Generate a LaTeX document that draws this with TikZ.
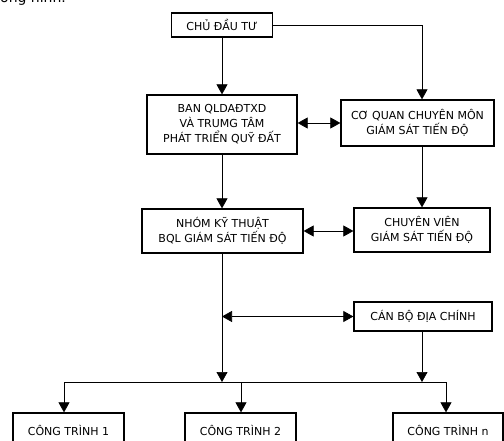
\documentclass[tikz,border=0pt]{standalone}
\usepackage{fontspec}
\setmainfont{DejaVu Sans}
\usetikzlibrary{arrows.meta,calc}
\begin{document}
\begin{tikzpicture}[x=1pt,y=-1pt,
  box/.style={draw,line width=1.3pt,align=center,inner sep=0pt,
    font=\fontsize{11}{15}\selectfont},
  conn/.style={line width=0.7pt},
  arr/.style={conn,-{Triangle[width=11pt,length=10pt]}},
  darr/.style={conn,{Triangle[width=11pt,length=10pt]}-{Triangle[width=11pt,length=10pt]}}]
\useasboundingbox (0,0) rectangle (504,441);
\clip (0,0) rectangle (504,441);
\fill[white] (0,0) rectangle (504,441);
\node[anchor=base west,inner sep=0pt,font=\fontsize{14}{16}\selectfont] (cap) at (0,3) {ong hình.};
% boxes
\node[box,minimum width=101pt,minimum height=24pt] (cdt) at (222,25) {CHỦ ĐẦU TƯ};
\node[box,minimum width=150pt,minimum height=59pt] (ban) at (222,124.5) {BAN QLDAĐTXD\\VÀ TRUMG TÂM\\PHÁT TRIỂN QUỸ ĐẤT};
\node[box,minimum width=153pt,minimum height=46pt] (cq) at (417.5,123) {CƠ QUAN CHUYÊN MÔN\\GIÁM SÁT TIẾN ĐỘ};
\node[box,minimum width=161pt,minimum height=44pt] (nhom) at (222.5,231) {NHÓM KỸ THUẬT\\BQL GIÁM SÁT TIẾN ĐỘ};
\node[box,minimum width=136pt,minimum height=44pt] (cv) at (422,230) {CHUYÊN VIÊN\\GIÁM SÁT TIẾN ĐỘ};
\node[box,minimum width=138pt,minimum height=29pt] (cb) at (423,316.5) {CÁN BỘ ĐỊA CHÍNH};
\node[box,minimum width=111pt,minimum height=34pt] (ct1) at (68.5,430) {CÔNG TRÌNH 1};
\node[box,minimum width=111pt,minimum height=34pt] (ct2) at (240.5,430) {CÔNG TRÌNH 2};
\node[box,minimum width=110pt,minimum height=34pt] (ctn) at (448,430) {CÔNG TRÌNH n};
% helper coordinates
\coordinate (rc) at (422,0);
\coordinate (lc) at (222,0);
\coordinate (b1) at (64,382);
\coordinate (b2) at (241,382);
\coordinate (b3) at (446,382);
% connectors
\draw[arr] (cdt.south) -- (ban.north);
\draw[arr] (cdt.east) -| (cq.north -| rc);
\draw[darr] (cq.west -| ban.east) -- (cq.west);
\draw[arr] (ban.south) -- (nhom.north -| ban.south);
\draw[arr] (cq.south -| rc) -- (cv.north -| rc);
\draw[darr] (nhom.east) -- (cv.west |- nhom.east);
\draw[arr] (nhom.south -| lc) -- (b1 -| lc);
\draw[darr] (cb.west -| lc) -- (cb.west);
\draw[arr] (cb.south -| rc) -- (b1 -| rc);
\draw[conn] (b1) -- (b3);
\draw[arr] (b1) -- (b1 |- ct1.north);
\draw[arr] (b2) -- (b2 |- ct2.north);
\draw[arr] (b3) -- (b3 |- ctn.north);
\end{tikzpicture}
\end{document}
